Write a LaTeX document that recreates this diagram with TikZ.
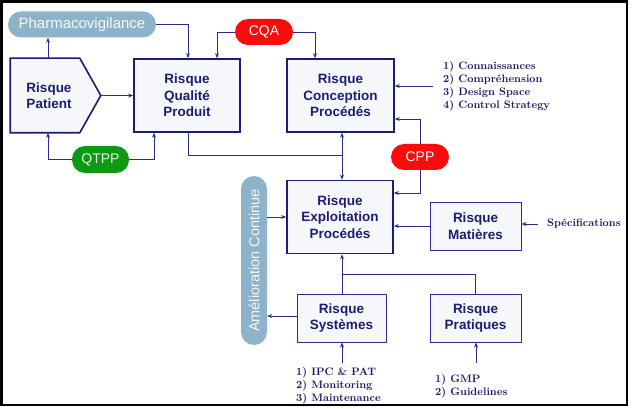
\documentclass[tikz,border=0pt]{standalone}
\usepackage{fontspec}
\newfontfamily\arial{Liberation Sans}
\usetikzlibrary{arrows.meta,backgrounds}
\definecolor{navy}{HTML}{1C1C78}
\definecolor{lnavy}{HTML}{2A2A90}
\definecolor{boxfill}{HTML}{F6F7FB}
\definecolor{pillblue}{HTML}{8DB3CB}
\definecolor{pillred}{HTML}{FF0A0A}
\definecolor{pillgreen}{HTML}{0C9A12}
\begin{document}
\begin{tikzpicture}[x=1pt,y=-1pt,
  bigbox/.style={draw=navy, line width=1.6pt, fill=boxfill, text=navy, align=center, inner sep=0pt,
    font=\arial\bfseries\fontsize{13.5}{16.5}\selectfont, minimum width=106pt, minimum height=73pt},
  smallbox/.style={bigbox, line width=1.0pt, draw=lnavy, minimum width=90pt, minimum height=48pt},
  pill/.style={inner sep=0pt, align=center, font=\arial\fontsize{14}{16}\selectfont, minimum height=26pt, rounded corners=13pt},
  lst/.style={font=\bfseries\fontsize{10.8}{13}\selectfont, text=navy!85!black, align=left, inner sep=0pt},
  arr/.style={draw=lnavy, line width=0.9pt, -{Stealth[length=5pt,width=4pt]}},
  ln/.style={draw=lnavy, line width=0.9pt}
]
\begin{pgfonlayer}{background}
\fill[white] (0,0) rectangle (632,409);
\end{pgfonlayer}
\useasboundingbox (0,0) rectangle (632,409);
\draw[line width=2.5pt] (1.5,1.5) rectangle (627,405);

% pills
\node[pill, fill=pillblue, text=white!92!pillblue, minimum width=148pt, font=\arial\fontsize{15}{17}\selectfont] (pharm) at (82,24.5) {Pharmacovigilance};
\node[pill, fill=pillred, text=white, minimum width=58pt] (cqa) at (264,32) {CQA};
\node[pill, fill=pillgreen, text=white!88!pillgreen, minimum width=57pt, minimum height=27pt] (qtpp) at (100.5,159.5) {QTPP};
\node[pill, fill=pillred, text=white, minimum width=58pt] (cpp) at (420,157) {CPP};
\node[pill, fill=pillblue, text=white!90!pillblue, minimum width=169pt, rotate=90, font=\arial\fontsize{14.5}{17}\selectfont] (amel) at (254,260.5) {Amélioration Continue};

% patient
\node[bigbox, draw=none, fill=none, minimum width=68pt] (pat) at (45,95.5) {\hspace*{8pt}Risque\\\hspace*{8pt}Patient};
\coordinate (pattip) at ([xshift=21pt]pat.east);
\begin{pgfonlayer}{background}
\draw[navy, line width=1.6pt, fill=boxfill] (pat.north west) -- (pat.north east) -- (pattip) -- (pat.south east) -- (pat.south west) -- cycle;
\end{pgfonlayer}

% boxes
\node[bigbox] (qual) at (187,95.5) {Risque\\Qualité\\Produit};
\node[bigbox, minimum width=107pt] (conc) at (340.5,95.5) {Risque\\Conception\\Procédés};
\node[bigbox] (expl) at (340,217) {Risque\\Exploitation\\Procédés};
\node[smallbox, minimum width=91pt] (mat) at (475.5,226) {Risque\\Matières};
\node[smallbox, minimum width=89pt] (sys) at (341.5,318) {Risque\\Systèmes};
\node[smallbox, minimum width=91pt] (prat) at (475.5,318) {Risque\\Pratiques};

% lists
\node[lst, anchor=west] (clist) at (443,86) {1) Connaissances\\2) Compréhension\\3) Design Space\\4) Control Strategy};
\node[lst, anchor=west] (spec) at (547,224) {Spécifications};
\node[lst, anchor=west] (slist) at (296,386) {1) IPC \& PAT\\2) Monitoring\\3) Maintenance};
\node[lst, anchor=west] (plist) at (435,386) {1) GMP\\2) Guidelines};

\coordinate (jn) at (342,155);
\coordinate (jn2) at (342,274);
\coordinate (sysin) at (342,363);
\coordinate (pratin) at (476,363);

% connectors
\draw[arr] ([xshift=3pt]pat.north) -- ([xshift=3pt]pat.north |- pharm.south);
\draw[arr] (pharm.east) -| ([xshift=1pt]qual.north);
\draw[arr] (cqa.west) -| ([xshift=30pt]qual.north);
\draw[arr] (cqa.east) -| ([xshift=-25.5pt]conc.north);
\draw[arr] (pattip) -- (qual.west);
\draw[arr] (qtpp.west) -| ([xshift=3pt]pat.south);
\draw[arr] (qtpp.east) -| ([xshift=-33pt]qual.south);
\draw[ln] ([xshift=1pt]qual.south) |- (jn);
\draw[arr, {Stealth[length=5pt,width=4pt]}-{Stealth[length=5pt,width=4pt]}] (conc.south -| jn) -- (expl.north -| jn);
\draw[arr] (cpp.north) |- ([yshift=-23.5pt]conc.east);
\draw[arr] (cpp.south) |- ([yshift=24pt]expl.east);
\draw[arr] ([xshift=-10pt]clist.west) -- (clist.west -| conc.east);
\draw[arr] (mat.west) -- (mat.west -| expl.east);
\draw[arr] ([xshift=-9pt]spec.west) -- (spec.west -| mat.east);
\draw[arr] (sys.north -| jn) -- (expl.south -| jn);
\draw[ln] (prat.north) |- (jn2);
\draw[arr] (sysin) -- (sysin |- sys.south);
\draw[arr] (pratin) -- (pratin |- prat.south);
\draw[arr] (amel.south |- expl.west) -- (expl.west);
\draw[arr] ([yshift=2pt]sys.west) -- ([yshift=2pt]sys.west -| amel.south);
\end{tikzpicture}
\end{document}
